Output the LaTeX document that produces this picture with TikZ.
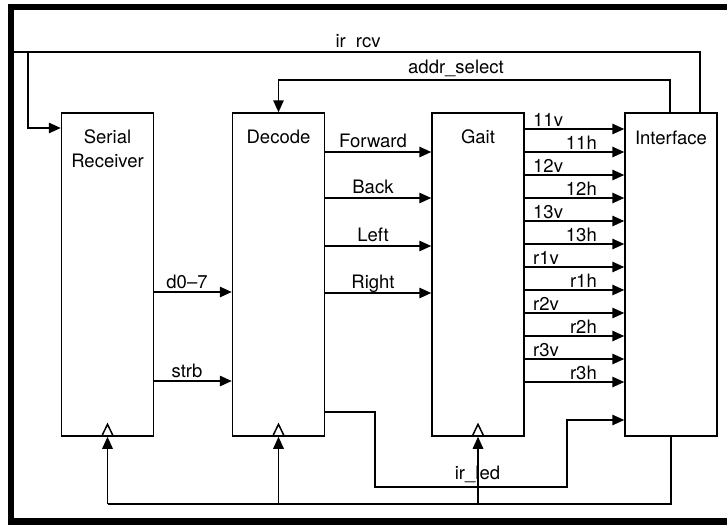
\documentclass[tikz,border=0pt]{standalone}
\usepackage{fontspec}
\setmainfont{TeX Gyre Heros}
\usetikzlibrary{arrows.meta}
\begin{document}
\begin{tikzpicture}[x=1pt,y=-1pt,
  box/.style={draw,line width=1.5pt,minimum width=92pt,minimum height=323pt,inner sep=0pt},
  wire/.style={line width=1.5pt},
  arr/.style={wire,-{Triangle[length=12pt,width=10.5pt]}},
  lbl/.style={font=\fontsize{18.5}{24}\selectfont,inner sep=0pt},
  frame/.style={line width=6.5pt}
]
\useasboundingbox (0,0) rectangle (727,525);
\draw[frame] (760,7) -- (11,7) -- (11,521.5) -- (760,521.5);

% blocks
\node[box] (sr)   at (107.5,274.5) {};
\node[box] (dec)  at (278.5,274.5) {};
\node[box] (gait) at (478,274.5) {};
\node[box] (intf) at (671,274.5) {};

\node[lbl,anchor=base] (tsr1) at (107.5,143) {Serial};
\node[lbl,anchor=base] (tsr2) at (107.5,167) {Receiver};
\node[lbl,anchor=base] (tdec) at (278.5,143) {Decode};
\node[lbl,anchor=base] (tgait) at (478,143) {Gait};
\node[lbl,anchor=base] (tintf) at (671,144) {Interface};

% clock triangles
\foreach \n in {sr,dec,gait}
  \draw[wire] ([xshift=-6pt]\n.south) -- ([yshift=12.5pt]\n.south) -- ([xshift=6pt]\n.south);

% ir rcv
\coordinate (rcvR) at (700,52);
\coordinate (rcvL) at (28,52);
\coordinate (rcvS) at (11,52);
\draw[wire] (rcvS) -- (rcvR) -- (intf.north -| rcvR);
\draw[arr] (rcvL) |- (sr.west |- 0,128);
\node[lbl,anchor=base] (lrcv) at (358,47) {ir\hspace{5pt} rcv};

% addr_select
\coordinate (asR) at (670,80);
\draw[arr] (intf.north -| asR) -- (asR) -| (dec.north);
\node[lbl,anchor=base] (las) at (456,73) {addr\_select};

% Serial Receiver -> Decode
\draw[arr] (sr.east |- 0,292) -- (dec.west |- 0,292);
\node[lbl,anchor=base] (ld07) at (187,288) {d0–7};
\draw[arr] (sr.east |- 0,381) -- (dec.west |- 0,381);
\node[lbl,anchor=base] (lstrb) at (187,377) {strb};

% Decode -> Gait
\foreach \y/\t in {152/Forward,198/Back,246/Left,293/Right}{
  \draw[arr] (dec.east |- 0,\y) -- (gait.west |- 0,\y);
  \node[lbl,anchor=base] (l\t) at (373,\y-5) {\t};
}

% Gait -> Interface
\foreach \i/\v/\h in {0/11v/11h,1/12v/12h,2/13v/13h,3/r1v/r1h,4/r2v/r2h,5/r3v/r3h}{
  \pgfmathsetmacro{\ya}{129+46*\i}
  \pgfmathsetmacro{\yb}{152+46*\i}
  \draw[arr] (gait.east |- 0,\ya) -- (intf.west |- 0,\ya);
  \draw[arr] (gait.east |- 0,\yb) -- (intf.west |- 0,\yb);
  \node[lbl,anchor=base west] (l\v) at (533,\ya-2.5) {\v};
  \node[lbl,anchor=base east] (l\h) at (597,\yb-2.5) {\h};
}

% Decode -> Interface (lower)
\coordinate (k1) at (375,412);
\coordinate (k2) at (375,487);
\coordinate (k3) at (567,487);
\coordinate (k4) at (567,420);
\draw[arr] (dec.east |- k1) -- (k1) -- (k2) -- (k3) -- (k4) -- (intf.west |- k4);

% ir_led feedback
\coordinate (b0) at (671,504);
\draw[wire] (intf.south) -- (intf.south |- b0) -- (sr.south |- b0);
\draw[arr] (sr.south |- b0) -- (sr.south);
\draw[arr] (dec.south |- b0) -- (dec.south);
\draw[arr] (gait.south |- b0) -- (gait.south);
\node[lbl,anchor=base] (lled) at (477.5,479) {ir\_led};
\end{tikzpicture}
\end{document}
